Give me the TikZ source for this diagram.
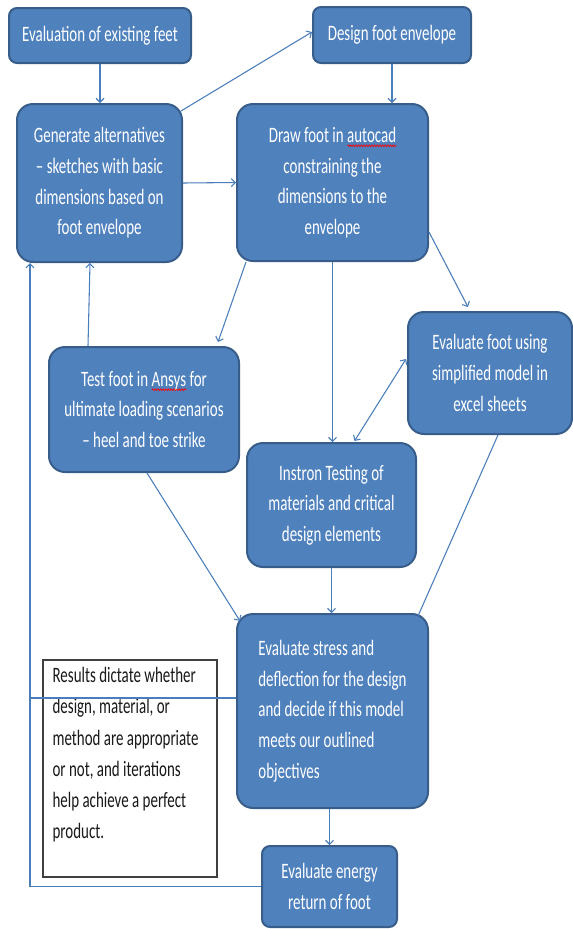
\documentclass[tikz,border=0pt]{standalone}
\usepackage{fontspec}
\setmainfont{Carlito}[FakeStretch=0.68]
\usetikzlibrary{arrows.meta,calc,decorations.pathmorphing}
\definecolor{boxblue}{HTML}{4F81BD}
\definecolor{boxedge}{HTML}{385D8A}
\definecolor{linkblue}{HTML}{4A7EBB}
\newlength\wavelen
\newcommand\redwave[1]{\settowidth\wavelen{#1}%
  \rlap{\raisebox{-3.5pt}{\tikz[x=1pt,y=1pt]\draw[sharp corners, red, line width=0.5pt, decorate,
    decoration={zigzag, segment length=2pt, amplitude=0.7pt}] (0,0) -- (\the\wavelen,0);}}#1}

\begin{document}
\begin{tikzpicture}[x=0.75pt,y=-0.75pt,
  boxsize/.style 2 args={minimum width=#1*0.75pt, minimum height=#2*0.75pt},
  stage/.style={draw=boxedge, line width=1.5pt, fill=boxblue, text=white,
    rounded corners=12pt, align=center, inner sep=0pt,
    font=\fontsize{16.5pt}{23pt}\selectfont},
  smallcorners/.style={rounded corners=6pt},
  notebox/.style={draw=black!75, line width=1pt, fill=white, inner sep=0pt},
  notetext/.style={text=black!90, align=left, inner sep=0pt,
    font=\fontsize{16.5pt}{23.3pt}\selectfont},
  plain/.style={draw=linkblue, line width=0.8pt},
  link/.style={plain, -{Straight Barb[length=3pt,width=6pt]}},
  twoway/.style={plain, {Straight Barb[length=3pt,width=6pt]}-{Straight Barb[length=3pt,width=6pt]}}]
\useasboundingbox (0,0) rectangle (573,929);

% Top row
\node[stage, smallcorners, boxsize={182}{55}] (evalfeet) at (100,35.5) {Evaluation of existing feet};
\node[stage, smallcorners, boxsize={158}{56}] (envelope) at (392,35) {Design foot envelope};

% Design
\node[stage, boxsize={165}{158}] (alternatives) at (99.5,183) {Generate alternatives\\– sketches with basic\\dimensions based on\\foot envelope};
\node[stage, boxsize={191}{157}] (autocad) at (332.5,182.5) {Draw foot in \redwave{autocad}\\constraining the\\dimensions to the\\envelope};

% Testing
\node[stage, boxsize={190}{125}] (ansys) at (144,409.5) {Test foot in \redwave{Ansys} for\\ultimate loading scenarios\\– heel and toe strike};
\node[stage, boxsize={164}{122}] (excel) at (490,373) {Evaluate foot using\\simplified model in\\excel sheets};
\node[stage, boxsize={169}{124}] (instron) at (331.5,505) {Instron Testing of\\materials and critical\\design elements};

% Evaluation
\node[stage, boxsize={191}{194}, align=left] (stress) at (332.5,711) {Evaluate stress and\\deflection for the design\\and decide if this model\\meets our outlined\\objectives};
\node[stage, smallcorners, boxsize={135}{81}] (energy) at (329.5,886.5) {Evaluate energy\\return of foot};

% Note
\node[notebox, boxsize={174}{217}] (note) at (130,768.5) {};
\node[notetext, anchor=north west] (notetxt) at ($(note.north west)+(10,8)$) {Results dictate whether\\design, material, or\\method are appropriate\\or not, and iterations\\help achieve a perfect\\product.};

% Arrows
\draw[link] (evalfeet.south) -- (evalfeet.south |- alternatives.north);
\draw[link] ($(alternatives.north east)+(-2,8)$) -- ($(envelope.west)+(0,-3)$);
\draw[link] (envelope.south) -- (envelope.south |- autocad.north);
\draw[link] (alternatives.east) -- (autocad.west);
\draw[link] ($(autocad.south west)+(10,0)$) -- ($(ansys.north east)+(-22,-4)$);
\draw[link] (autocad.south) -- (autocad.south |- instron.north);
\draw[link] ($(autocad.south east)+(0,-30)$) -- ($(excel.north)+(-22,-4)$);
\draw[twoway] ($(instron.north)+(23,-1)$) -- ($(excel.west)+(-1,-14)$);
\draw[link] ($(ansys.north west)+(40,0)$) -- ($(alternatives.south west)+(74,0)$);
\draw[link] ($(ansys.south west)+(99,0)$) -- ($(stress.north west)+(4,8)$);
\draw[link] (instron.south) -- (instron.south |- stress.north);
\draw[plain] ($(excel.south west)+(91,0)$) -- ($(stress.north east)+(-11,3)$);
\draw[link] (stress.south -| energy.north) -- (energy.north);

% Loop back
\coordinate (loop) at (30,0);
\coordinate (verdict) at ($(stress.west)+(0,-13)$);
\draw[link] (energy.west) -| (loop |- alternatives.south);
\draw[plain] (verdict) -- (verdict -| loop);
\end{tikzpicture}
\end{document}
